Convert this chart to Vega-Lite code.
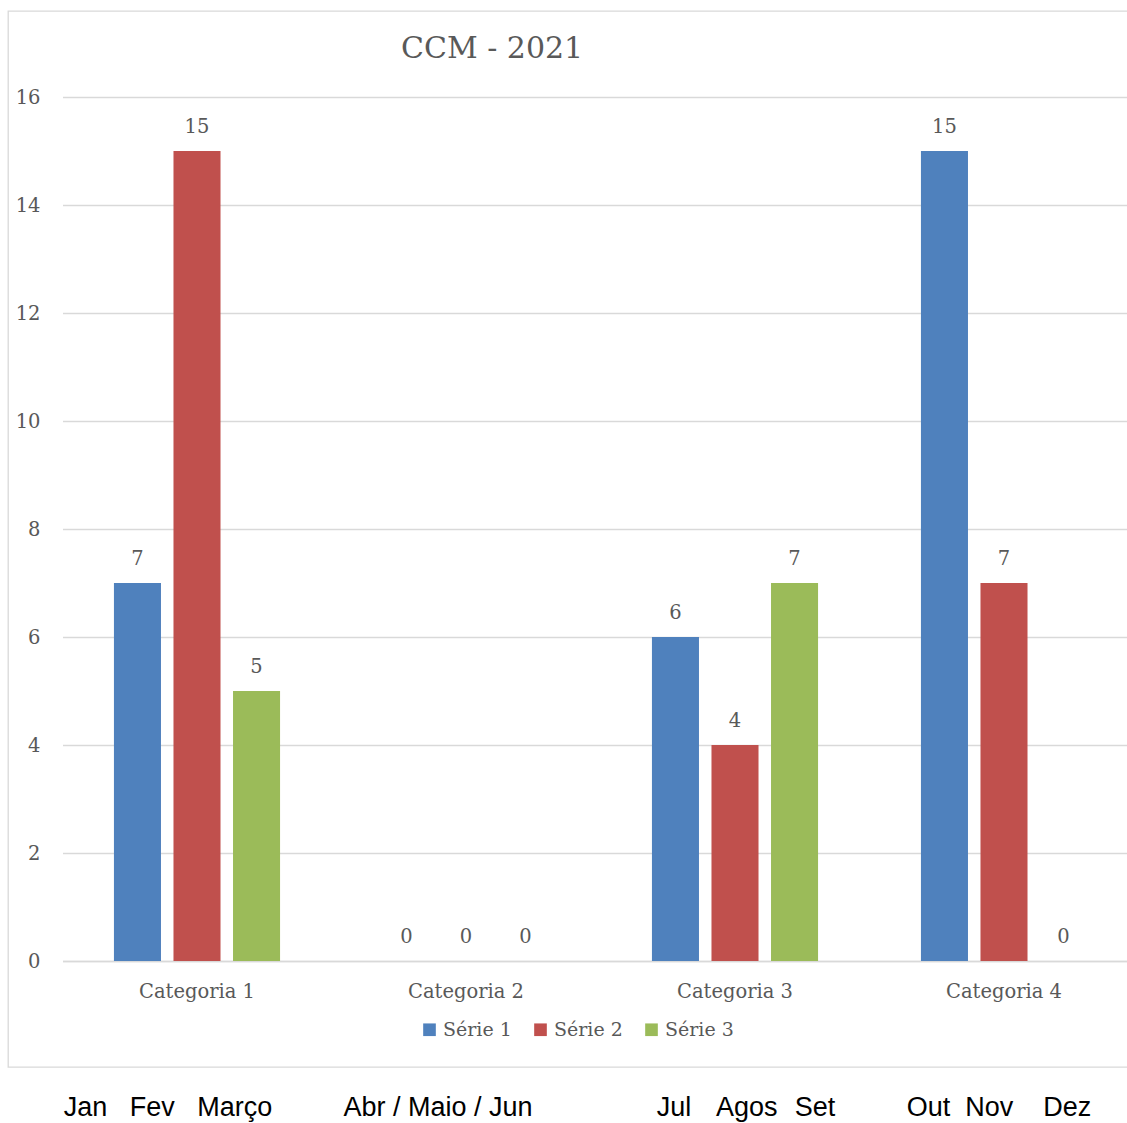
{
  "$schema": "https://vega.github.io/schema/vega-lite/v6.json",
  "width": 1121,
  "height": 1056,
  "autosize": {"type": "none"},
  "padding": {"left": 8, "top": 11, "right": 0, "bottom": 56},
  "background": "white",
  "config": {"view": {"stroke": "#d9d9d9", "strokeWidth": 1.3}, "font": "DejaVu Serif"},
  "title": {"text": "CCM - 2021", "anchor": "start", "frame": "group", "dx": 393, "dy": 77, "offset": 0, "baseline": "alphabetic", "font": "DejaVu Serif", "fontSize": 30, "fontWeight": "normal", "color": "#595959"},
  "data": {"values": [
    {"categoria": "Categoria 1", "serie": "Série 1", "valor": 7},
    {"categoria": "Categoria 1", "serie": "Série 2", "valor": 15},
    {"categoria": "Categoria 1", "serie": "Série 3", "valor": 5},
    {"categoria": "Categoria 2", "serie": "Série 1", "valor": 0},
    {"categoria": "Categoria 2", "serie": "Série 2", "valor": 0},
    {"categoria": "Categoria 2", "serie": "Série 3", "valor": 0},
    {"categoria": "Categoria 3", "serie": "Série 1", "valor": 6},
    {"categoria": "Categoria 3", "serie": "Série 2", "valor": 4},
    {"categoria": "Categoria 3", "serie": "Série 3", "valor": 7},
    {"categoria": "Categoria 4", "serie": "Série 1", "valor": 15},
    {"categoria": "Categoria 4", "serie": "Série 2", "valor": 7},
    {"categoria": "Categoria 4", "serie": "Série 3", "valor": 0}
  ]},
  "layer": [
    {
      "mark": {"type": "bar"},
      "encoding": {
        "x": {"field": "categoria", "type": "nominal", "sort": null,
          "scale": {"range": [54.5, 1130.5], "paddingInner": 0.336, "paddingOuter": 0.168},
          "axis": {"orient": "bottom", "offset": -106, "domain": true, "domainColor": "#d9d9d9", "domainWidth": 1.3, "ticks": false, "tickSize": 0, "labelPadding": 21, "labelAngle": 0, "labelFont": "DejaVu Serif", "labelFontSize": 19.5, "labelColor": "#595959", "title": null, "grid": false}},
        "xOffset": {"field": "serie", "type": "nominal", "sort": null, "scale": {"paddingInner": 0.21, "paddingOuter": 0.105}},
        "y": {"field": "valor", "type": "quantitative",
          "scale": {"domain": [0, 16], "range": [950, 86], "nice": false},
          "axis": {"values": [0, 2, 4, 6, 8, 10, 12, 14, 16], "format": "d", "orient": "left", "offset": -32, "domain": false, "ticks": false, "tickSize": 0, "labelPadding": 0, "grid": true, "gridColor": "#d9d9d9", "gridWidth": 1.3, "labelFont": "DejaVu Serif", "labelFontSize": 19.5, "labelColor": "#595959", "title": null}},
        "color": {"field": "serie", "type": "nominal",
          "scale": {"domain": ["Série 1", "Série 2", "Série 3"], "range": ["#4F81BD", "#C0504D", "#9BBB59"]},
          "legend": {"orient": "none", "legendX": 412, "legendY": 1009, "direction": "horizontal", "title": null, "symbolType": "square", "symbolSize": 160, "symbolStrokeWidth": 0, "labelFont": "DejaVu Serif", "labelFontSize": 19, "labelColor": "#595959", "labelOffset": 4, "columnPadding": 19}}
      }
    },
    {
      "mark": {"type": "text", "baseline": "alphabetic", "dy": -18, "font": "DejaVu Serif", "fontSize": 19.5, "color": "#595959"},
      "encoding": {
        "x": {"field": "categoria", "type": "nominal", "sort": null,
          "axis": {"orient": "bottom", "offset": 27, "domain": false, "ticks": false, "tickSize": 0, "labelPadding": 0, "labelAngle": 0, "labelFont": "Liberation Sans", "labelFontSize": 27, "labelColor": "black", "title": null, "grid": false, "labelOverlap": false, "labelBound": false, "labelLimit": 0,
            "labelExpr": "datum.value === 'Categoria 1' ? 'Jan\u00a0\u00a0\u00a0Fev\u00a0\u00a0\u00a0Março' : datum.value === 'Categoria 2' ? 'Abr / Maio / Jun' : datum.value === 'Categoria 3' ? 'Jul\u00a0\u00a0\u00a0\u200aAgos\u00a0\u00a0\u200aSet' : 'Out\u00a0\u00a0Nov\u00a0\u00a0\u00a0\u00a0Dez'",
            "labelOffset": {"condition": [
              {"test": "datum.value === 'Categoria 1'", "value": -29},
              {"test": "datum.value === 'Categoria 2'", "value": -28},
              {"test": "datum.value === 'Categoria 3'", "value": 11}
            ], "value": -5}}},
        "xOffset": {"field": "serie", "type": "nominal", "sort": null},
        "y": {"field": "valor", "type": "quantitative"},
        "text": {"field": "valor", "type": "quantitative"}
      }
    }
  ],
  "resolve": {"axis": {"x": "independent"}}
}
